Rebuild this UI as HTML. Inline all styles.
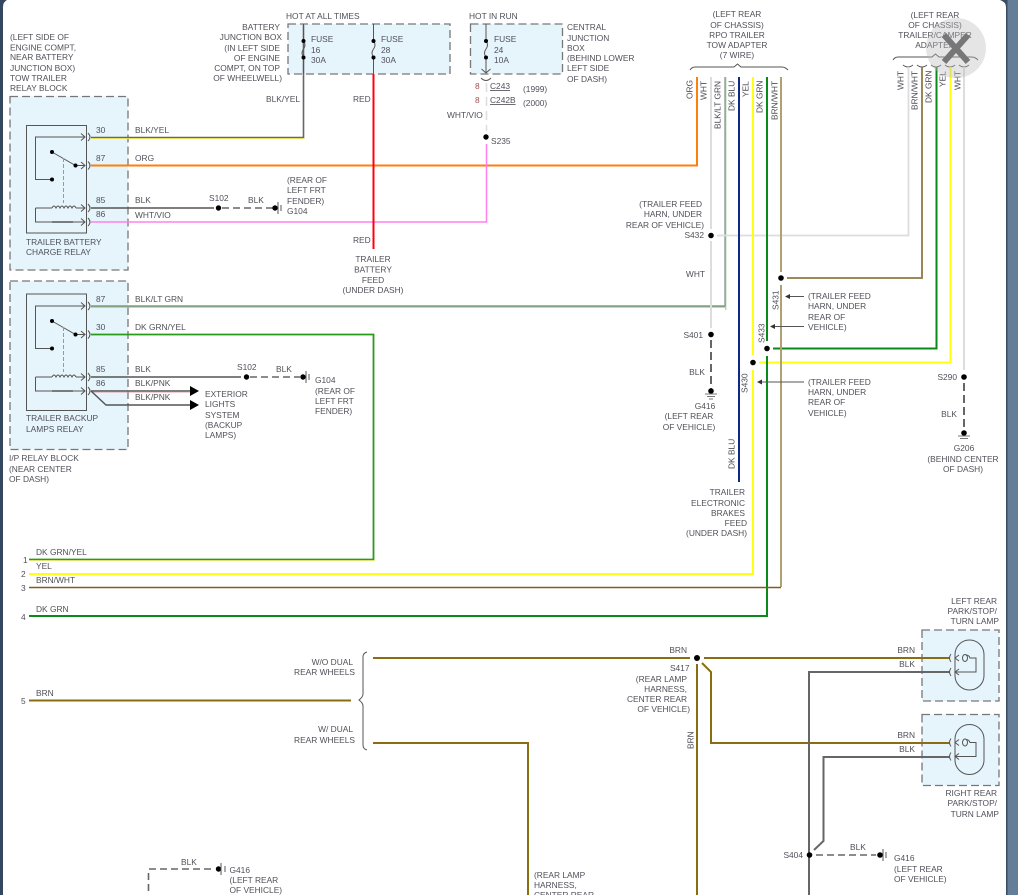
<!DOCTYPE html>
<html><head><meta charset="utf-8"><style>
html,body{margin:0;padding:0;background:#fff}
svg{display:block}
text{font-family:"Liberation Sans",sans-serif;font-size:8.4px;fill:#50505a}
.e{text-anchor:end}.m{text-anchor:middle}
.f{fill:#e6f4fc;stroke:#777;stroke-width:1.3;stroke-dasharray:8 4}
.w{fill:none;stroke-linejoin:miter}
.t{fill:none;stroke:#555;stroke-width:1}
</style></head><body>
<svg width="1018" height="895" viewBox="0 0 1018 895" xmlns="http://www.w3.org/2000/svg">
<defs>
<g id="rel">
<path class="t" d="M84 12H35.5V54.500H52M52 27L75.500 40.500H85M81 37l4 3.500-4 3.500M81 8.500l4 3.500-4 3.500M35.500 83H52M76 83H85M81 79.500l4 3.500-4 3.500M35.500 83V97H85M81 93.500l4 3.500-4 3.500"/>
<path class="t" d="M52 83q2-4 4 0q2-4 4 0q2-4 4 0q2-4 4 0q2-4 4 0q2-4 4 0"/>
<path d="M63.500 33V78" stroke="#999" stroke-width="1" stroke-dasharray="4 2" fill="none"/>
<path d="M52 97H73" stroke="#555" stroke-width="1.600" fill="none"/>
<circle cx="52" cy="27" r="2"/><circle cx="52" cy="54.500" r="2"/><circle cx="75.500" cy="40.500" r="2"/>
<path class="t" d="M88 8q4 4 0 8M88 36.500q4 4 0 8M88 79q4 4 0 8M88 93q4 4 0 8"/>
</g>
<g id="lamp">
<rect x="955" y="640" width="29" height="50" rx="14.500" class="t"/>
<path class="t" d="M951 654q-3 4 0 8M951 668q-3 4 0 8M959 655l-4 3 4 3M959 669l-4 3 4 3M955 672H976V658H970q-1-3-4-3"/>
<ellipse cx="965" cy="658" rx="2.500" ry="3.500" class="t"/>
</g>
</defs>

<rect width="1018" height="895" fill="#fff"/>
<rect x="0" y="0" width="3" height="895" fill="#33475e"/>
<rect x="1006" y="0" width="12" height="895" fill="#647d98"/>
<rect x="1006" y="0" width="1.500" height="895" fill="#3a4c62"/>
<path d="M0 0H7Q3 2 3 7V0Z" fill="#33475e"/>
<path d="M1000 0H1006V7Q1006 2 1000 0Z" fill="#3a4c62"/>

<!-- boxes -->
<rect class="f" x="10" y="96.500" width="118" height="173.500"/>
<rect class="f" x="10" y="281" width="118" height="168.500"/>
<rect class="f" x="288" y="24" width="162" height="50"/>
<rect class="f" x="470.500" y="24" width="92" height="50"/>
<rect class="f" x="922" y="630" width="77" height="71"/>
<rect class="f" x="922" y="714.500" width="77" height="71"/>

<rect x="26.500" y="125.500" width="60" height="107.500" fill="none" stroke="#555" stroke-width="1"/>
<rect x="26.500" y="294" width="60" height="116.500" fill="none" stroke="#555" stroke-width="1"/>
<use href="#rel" x="0" y="125"/>
<use href="#rel" x="0" y="294"/>

<!-- wires top-left -->
<path class="w" d="M91 137.500H303.500V25" stroke="#666" stroke-width="1.600"/>
<path class="w" d="M91 138.500H304.500" stroke="#e4e060" stroke-width="1"/>
<path class="w" d="M91 165.500H697V77" stroke="#ff7f0a" stroke-width="2"/>
<path class="w" d="M91 208H214" stroke="#555" stroke-width="1.600"/>
<path class="w" d="M222 208H274" stroke="#666" stroke-width="1.600" stroke-dasharray="7 4"/>
<path class="w" d="M91 222H486.500V144" stroke="#ff80ee" stroke-width="1.500"/>
<path class="w" d="M486.500 83V131" stroke="#ddd" stroke-width="1.500" stroke-dasharray="9 5"/>
<circle cx="218.500" cy="208" r="2.700"/><circle cx="275" cy="208" r="2.700"/>
<path d="M278 202V214M281 205V211" stroke="#555" fill="none"/>
<circle cx="486" cy="137" r="2.700"/>

<!-- fuses -->
<path class="t" d="M303.500 24V41q3 4 0 8q-3 4 0 8V74"/>
<path class="t" d="M373.500 24V41q3 4 0 8q-3 4 0 8V74"/>
<path class="t" d="M486 24V41q3 4 0 8q-3 4 0 8V73M481.500 69l4.500 4 4.500-4M481 78q5 5 10 0"/>
<circle cx="303.500" cy="41" r="2"/><circle cx="303.500" cy="57.500" r="2"/>
<circle cx="373.500" cy="41" r="2"/><circle cx="373.500" cy="57.500" r="2"/>
<circle cx="486" cy="41" r="2"/><circle cx="486" cy="57.500" r="2"/>
<path d="M373.500 74V249" stroke="#ff0010" stroke-width="2" fill="none"/>

<!-- relay 2 wires -->
<path class="w" d="M91 306.500H725" stroke="#7fd07f" stroke-width="2.200"/>
<path class="w" d="M91 306H725V77" stroke="#888" stroke-width="1.200"/>
<path class="w" d="M725.800 77V310" stroke="#7fd07f" stroke-width="1"/>
<path class="w" d="M91 334.500H373.500V559.500H29" stroke="#2a9a1a" stroke-width="1.800"/>
<path class="w" d="M29 560.500H374.500V560" stroke="#e8e860" stroke-width=".8"/>
<path class="w" d="M91 377H241" stroke="#555" stroke-width="1.600"/>
<path class="w" d="M250 377H300" stroke="#666" stroke-width="1.600" stroke-dasharray="7 4"/>
<circle cx="246.500" cy="377" r="2.700"/><circle cx="303" cy="377" r="2.700"/>
<path d="M306 371V383M309 374V380" stroke="#555" fill="none"/>
<path class="w" d="M91 391H190" stroke="#555" stroke-width="1.400"/>
<path class="w" d="M91 391.500H190" stroke="#d9a0a8" stroke-width=".7" transform="translate(0,.7)"/>
<path class="w" d="M91 391L106 405H190" stroke="#555" stroke-width="1.400"/>
<path d="M190 386L199 391L190 396ZM190 400L199 405L190 410Z"/>

<!-- connector brackets -->
<path class="t" d="M690 70q2-3 5-3H734l3.500-3 3.500 3H782q3 0 6 3" stroke="#555"/>
<path class="t" d="M893 60q2-3 5-3H932l3.500-3 3.500 3H972q3 0 6 3" stroke="#555"/>
<path class="t" d="M903 65q5 4 10 0M917 65q5 4 10 0M931 65q5 4 10 0M945 65q5 4 10 0M959 65q5 4 10 0"/>

<!-- main verticals -->
<path class="w" d="M711 77V229M711 241V328" stroke="#ddd" stroke-width="2"/>
<path class="w" d="M717 235.500H908.500V67" stroke="#ddd" stroke-width="1.800"/>
<path class="w" d="M711 340V391" stroke="#666" stroke-width="2" stroke-dasharray="8 4"/>
<path class="w" d="M739 77V482" stroke="#10288a" stroke-width="2"/>
<path class="w" d="M753 77V355M753 370V574H29" stroke="#ffff10" stroke-width="2"/>
<path class="w" d="M759 362.500H950.500V67" stroke="#ffff10" stroke-width="2"/>
<path class="w" d="M767 77V341M767 356V616H29" stroke="#0a8a1a" stroke-width="2"/>
<path class="w" d="M773 348.500H936.500V67" stroke="#0a8a1a" stroke-width="2"/>
<path class="w" d="M781 77V272M781 285V587" stroke="#b0a072" stroke-width="2"/>
<path class="w" d="M781 587.500H29" stroke="#7a6020" stroke-width="1.400"/>
<path class="w" d="M787 278H922V67" stroke="#8f7a40" stroke-width="1.800"/>
<path class="w" d="M964 67V370" stroke="#ddd" stroke-width="2"/>
<path class="w" d="M964 383V432" stroke="#666" stroke-width="2" stroke-dasharray="8 4"/>
<circle cx="711" cy="235.500" r="2.800"/><circle cx="711" cy="334.500" r="2.800"/>
<circle cx="781" cy="278" r="2.800"/><circle cx="767" cy="348.500" r="2.800"/>
<circle cx="753" cy="362.500" r="2.800"/><circle cx="964" cy="377" r="2.800"/>
<circle cx="711" cy="391" r="2.800"/><circle cx="964" cy="433" r="2.800"/>
<path d="M705 394H717M707 396.500H715M709 399H713M958 436H970M960 438.500H968" stroke="#777" fill="none"/>

<!-- arrows -->
<path d="M804 296.500H788M804 326.500H773M804 382H760" stroke="#555" fill="none"/>
<path d="M785 296.500l5-2.500v5ZM770 326.500l5-2.500v5ZM757 382l5-2.500v5Z" fill="#333"/>

<!-- lower brown wires -->
<path class="w" d="M29 700.500H351" stroke="#8a6d10" stroke-width="2"/>
<path class="t" d="M367 652q-4 1-4 5V694q0 3-4 6q4 3 4 6V745q0 4 4 5" stroke="#777"/>
<path class="w" d="M373 658H690M704 658H950" stroke="#8a6d10" stroke-width="2"/>
<path class="w" d="M373 743H528V895" stroke="#8a6d10" stroke-width="2"/>
<path class="w" d="M697 664V895" stroke="#8a6d10" stroke-width="2"/>
<path class="w" d="M702 663L711 672V743H950" stroke="#8a6d10" stroke-width="2"/>
<circle cx="697" cy="658" r="3"/>

<!-- black wires right -->
<path class="w" d="M950 672H809V895" stroke="#666" stroke-width="2"/>
<path class="w" d="M950 757H823.500V841L814 850" stroke="#666" stroke-width="2"/>
<path class="w" d="M816 855H876" stroke="#666" stroke-width="1.600" stroke-dasharray="7 4"/>
<circle cx="809.500" cy="855" r="2.800"/><circle cx="880" cy="855" r="2.800"/>
<path d="M883 849V861M886 852V858" stroke="#555" fill="none"/>
<use href="#lamp"/>
<use href="#lamp" y="84.500"/>

<!-- bottom left ground -->
<path class="w" d="M149 869H212M148.500 873V895" stroke="#666" stroke-width="1.600" stroke-dasharray="7 4"/>
<circle cx="218.500" cy="869" r="2.700"/>
<path d="M221 863V875M225 866V872" stroke="#555" fill="none"/>

<!-- text -->
<text x="10" y="40">(LEFT SIDE OF</text><text x="10" y="50.500">ENGINE COMPT,</text><text x="10" y="60">NEAR BATTERY</text><text x="10" y="71">JUNCTION BOX)</text><text x="10" y="81">TOW TRAILER</text><text x="10" y="91">RELAY BLOCK</text>
<text class="e" x="280" y="30">BATTERY</text><text class="e" x="282" y="40">JUNCTION BOX</text><text class="e" x="280" y="51">(IN LEFT SIDE</text><text class="e" x="280" y="61">OF ENGINE</text><text class="e" x="280" y="71">COMPT, ON TOP</text><text class="e" x="282" y="81">OF WHEELWELL)</text>
<text x="286" y="19">HOT AT ALL TIMES</text><text x="469" y="19">HOT IN RUN</text>
<text x="311" y="42">FUSE</text><text x="311" y="53">16</text><text x="311" y="63">30A</text>
<text x="381" y="42">FUSE</text><text x="381" y="53">28</text><text x="381" y="63">30A</text>
<text x="494" y="42">FUSE</text><text x="494" y="53">24</text><text x="494" y="63">10A</text>
<text x="567" y="30">CENTRAL</text><text x="567" y="41">JUNCTION</text><text x="567" y="51">BOX</text><text x="567" y="61">(BEHIND LOWER</text><text x="567" y="71">LEFT SIDE</text><text x="567" y="82">OF DASH)</text>
<text x="266" y="102">BLK/YEL</text><text x="353" y="102">RED</text><text x="353" y="243">RED</text>
<text class="m" x="373" y="262">TRAILER</text><text class="m" x="373" y="272.500">BATTERY</text><text class="m" x="373" y="283">FEED</text><text class="m" x="373" y="293">(UNDER DASH)</text>
<text x="475" y="89" style="fill:#a05050">8</text><text x="490" y="89" text-decoration="underline">C243</text><text x="475" y="103" style="fill:#a05050">8</text><text x="490" y="103" text-decoration="underline">C242B</text>
<text x="523" y="92">(1999)</text><text x="523" y="106">(2000)</text><text x="447" y="118">WHT/VIO</text><text x="491" y="144">S235</text>
<text x="96" y="133">30</text><text x="135" y="133">BLK/YEL</text><text x="96" y="161">87</text><text x="135" y="161">ORG</text><text x="96" y="203">85</text><text x="135" y="203">BLK</text><text x="96" y="217">86</text><text x="135" y="218">WHT/VIO</text>
<text x="209" y="201">S102</text><text x="248" y="203">BLK</text><text x="287" y="183">(REAR OF</text><text x="287" y="193">LEFT FRT</text><text x="287" y="204">FENDER)</text><text x="287" y="214">G104</text>
<text x="26" y="245">TRAILER BATTERY</text><text x="26" y="255">CHARGE RELAY</text>
<text x="96" y="302">87</text><text x="135" y="302">BLK/LT GRN</text><text x="96" y="330">30</text><text x="135" y="330">DK GRN/YEL</text><text x="96" y="372">85</text><text x="135" y="372">BLK</text><text x="96" y="386">86</text><text x="135" y="386">BLK/PNK</text><text x="135" y="400">BLK/PNK</text>
<text x="237" y="370">S102</text><text x="276" y="372">BLK</text><text x="315" y="383">G104</text><text x="315" y="394">(REAR OF</text><text x="315" y="404">LEFT FRT</text><text x="315" y="414">FENDER)</text>
<text x="205" y="397">EXTERIOR</text><text x="205" y="407">LIGHTS</text><text x="205" y="418">SYSTEM</text><text x="205" y="428">(BACKUP</text><text x="205" y="438">LAMPS)</text>
<text x="26" y="421">TRAILER BACKUP</text><text x="26" y="432">LAMPS RELAY</text>
<text x="9" y="461">I/P RELAY BLOCK</text><text x="9" y="472">(NEAR CENTER</text><text x="9" y="482">OF DASH)</text>
<text x="36" y="555">DK GRN/YEL</text><text x="23" y="563">1</text><text x="36" y="569">YEL</text><text x="21" y="577">2</text><text x="36" y="583">BRN/WHT</text><text x="21" y="591">3</text><text x="36" y="612">DK GRN</text><text x="21" y="620">4</text><text x="36" y="696">BRN</text><text x="21" y="704">5</text>
<text class="e" x="353" y="665">W/O DUAL</text><text class="e" x="355" y="675">REAR WHEELS</text><text class="e" x="353" y="732">W/ DUAL</text><text class="e" x="355" y="743">REAR WHEELS</text>
<text x="181" y="865">BLK</text><text x="229.500" y="873">G416</text><text x="229.500" y="883">(LEFT REAR</text><text x="229.500" y="893">OF VEHICLE)</text>
<text class="e" x="687" y="653">BRN</text><text class="e" x="689.500" y="671">S417</text><text class="e" x="687" y="682">(REAR LAMP</text><text class="e" x="687" y="692">HARNESS,</text><text class="e" x="687" y="702">CENTER REAR</text><text class="e" x="690" y="712">OF VEHICLE)</text>
<text transform="translate(693.500,749) rotate(-90)">BRN</text>
<text x="534" y="878">(REAR LAMP</text><text x="534" y="888">HARNESS,</text><text x="534" y="898">CENTER REAR</text>
<text class="e" x="997" y="604">LEFT REAR</text><text class="e" x="997" y="614">PARK/STOP/</text><text class="e" x="999" y="624">TURN LAMP</text>
<text class="e" x="915" y="653">BRN</text><text class="e" x="915" y="667">BLK</text><text class="e" x="915" y="738">BRN</text><text class="e" x="915" y="752">BLK</text>
<text class="e" x="997" y="796">RIGHT REAR</text><text class="e" x="997" y="806">PARK/STOP/</text><text class="e" x="999" y="817">TURN LAMP</text>
<text class="e" x="803" y="858">S404</text><text x="850" y="850">BLK</text><text x="894" y="861">G416</text><text x="894" y="872">(LEFT REAR</text><text x="894" y="882">OF VEHICLE)</text>
<text class="m" x="737" y="17">(LEFT REAR</text><text class="m" x="737" y="28">OF CHASSIS)</text><text class="m" x="737" y="38">RPO TRAILER</text><text class="m" x="737" y="48">TOW ADAPTER</text><text class="m" x="737" y="58">(7 WIRE)</text>
<text class="m" x="935" y="18">(LEFT REAR</text><text class="m" x="935" y="28">OF CHASSIS)</text><text class="m" x="935" y="38">TRAILER/CAMPER</text><text class="m" x="935" y="48">ADAPTER</text>
<text transform="translate(692.500,99) rotate(-90)">ORG</text><text transform="translate(706.500,100) rotate(-90)">WHT</text><text transform="translate(720.500,129) rotate(-90)">BLK/LT GRN</text><text transform="translate(734.500,111) rotate(-90)">DK BLU</text><text transform="translate(748.500,97) rotate(-90)">YEL</text><text transform="translate(762.500,113) rotate(-90)">DK GRN</text><text transform="translate(777.500,120) rotate(-90)">BRN/WHT</text>
<text transform="translate(903.500,90) rotate(-90)">WHT</text><text transform="translate(917.500,110) rotate(-90)">BRN/WHT</text><text transform="translate(931.500,103) rotate(-90)">DK GRN</text><text transform="translate(945.500,87) rotate(-90)">YEL</text><text transform="translate(960.500,90) rotate(-90)">WHT</text>
<text class="e" x="702" y="207">(TRAILER FEED</text><text class="e" x="702" y="217">HARN, UNDER</text><text class="e" x="704" y="228">REAR OF VEHICLE)</text><text class="e" x="704" y="238">S432</text><text class="e" x="705" y="277">WHT</text>
<text transform="translate(778.500,310) rotate(-90)">S431</text><text transform="translate(764.500,343) rotate(-90)">S433</text><text transform="translate(747.500,393) rotate(-90)">S430</text>
<text x="808" y="299">(TRAILER FEED</text><text x="808" y="309">HARN, UNDER</text><text x="808" y="320">REAR OF</text><text x="808" y="330">VEHICLE)</text>
<text x="808" y="385">(TRAILER FEED</text><text x="808" y="395">HARN, UNDER</text><text x="808" y="405">REAR OF</text><text x="808" y="416">VEHICLE)</text>
<text class="e" x="703" y="338">S401</text><text class="e" x="705" y="375">BLK</text><text class="m" x="705" y="409">G416</text><text class="m" x="689" y="419">(LEFT REAR</text><text class="m" x="689" y="430">OF VEHICLE)</text>
<text transform="translate(734.500,469) rotate(-90)">DK BLU</text>
<text class="e" x="745" y="495">TRAILER</text><text class="e" x="745" y="506">ELECTRONIC</text><text class="e" x="745" y="516">BRAKES</text><text class="e" x="747" y="526">FEED</text><text class="e" x="747" y="536">(UNDER DASH)</text>
<text class="e" x="957" y="380">S290</text><text class="e" x="957" y="417">BLK</text><text class="m" x="964" y="451">G206</text><text class="m" x="963" y="462">(BEHIND CENTER</text><text class="m" x="963" y="472">OF DASH)</text>

<!-- close overlay -->
<circle cx="956" cy="48" r="30" fill="#bbb" fill-opacity=".38"/>
<path d="M944 35L968 62M968 35L944 62" stroke="#777" stroke-width="6" fill="none"/>
</svg>
</body></html>
